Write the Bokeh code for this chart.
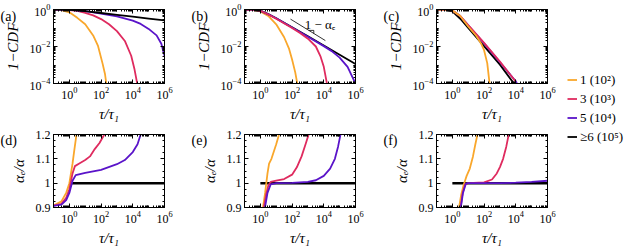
import numpy as np
from bokeh.plotting import figure
from bokeh.models import (Range1d, FixedTicker, LogAxis, LinearAxis, Label,
                          Legend, LegendItem, CustomJSTickFormatter)
from bokeh.layouts import row, column
from bokeh.embed import file_html
from bokeh.resources import INLINE

FONT = "Liberation Serif"
C_OR = "#f9a72c"
C_RD = "#df2b5f"
C_PU = "#5a14c9"
C_BK = "#000000"
LEGEND_LABELS = ["1 (10²)", "3 (10³)", "5 (10⁴)", "≥6 (10⁵)"]
PANEL_TAGS = ["(a)", "(b)", "(c)", "(d)", "(e)", "(f)"]

# ---- data: log10(tau/tau1) and log10(1-CDF) for top row ----
a_or_x = [-1, -0.5, 0, 0.5, 1, 1.5, 1.8, 2.1, 2.25, 2.36]
a_or_y = [0, -0.03, -0.15, -0.45, -0.8, -1.4, -1.95, -2.94, -3.5, -4.2]
a_rd_x = [-1, 0, 0.5, 1, 1.5, 2, 2.5, 3, 3.5, 3.9, 4.1, 4.3]
a_rd_y = [0, -0.03, -0.08, -0.18, -0.32, -0.52, -0.8, -1.17, -1.7, -2.5, -3.2, -4.1]
a_pu_x = [-1, 0, 1, 2, 3, 4, 4.5, 5, 5.5, 5.8, 6]
a_pu_y = [0, -0.02, -0.09, -0.22, -0.37, -0.6, -0.78, -1.05, -1.4, -1.85, -2.5]
a_bk_x = [-1, -0.5, 0, 0.5, 1, 2, 3, 4, 5, 6]
a_bk_y = [0, -0.005, -0.02, -0.05, -0.09, -0.19, -0.29, -0.39, -0.49, -0.59]

b_or_x = [-1, -0.5, 0, 0.5, 1, 1.5, 1.8, 2, 2.2, 2.35]
b_or_y = [0, -0.02, -0.1, -0.35, -0.8, -1.5, -2.1, -2.7, -3.4, -4.1]
b_rd_x = [-1, -0.5, 0, 0.5, 1, 2, 2.5, 3, 3.5, 3.8, 4, 4.22]
b_rd_y = [0, -0.01, -0.07, -0.27, -0.5, -1.0, -1.27, -1.58, -2.0, -2.55, -3.1, -4.1]
b_pu_x = [-1, -0.5, 0, 0.5, 1, 2, 3, 4, 4.5, 5, 5.5, 6]
b_pu_y = [0, -0.01, -0.07, -0.26, -0.48, -0.97, -1.47, -1.98, -2.25, -2.6, -3.1, -4.0]
b_bk_x = [-1, -0.5, 0, 0.5, 1, 2, 3, 4, 5, 6]
b_bk_y = [0, -0.01, -0.06, -0.25, -0.47, -0.96, -1.45, -1.95, -2.45, -2.95]
# guide line (slope 1 - alpha_e) and its triangle, in log10 units
guide_x = [1.9, 4.1]
guide_y = [-0.52, -1.68]
tri_x = [3.05, 3.37, 3.37]
tri_y = [-1.13, -1.13, -1.3]
guide_text = "1 − αₑ"
guide_text_x = 2.8
guide_text_y = -0.82

c_or_x = [-1, -0.5, 0, 0.5, 1, 1.5, 1.8, 2, 2.2, 2.36]
c_or_y = [0, -0.01, -0.05, -0.35, -0.92, -1.42, -1.82, -2.2, -2.9, -4.1]
c_rd_x = [-1, -0.5, 0, 0.5, 1, 2, 3, 4.0]
c_rd_y = [0, -0.01, -0.05, -0.35, -0.84, -1.8, -2.82, -3.9]
c_pu_x = [-1, -0.5, 0, 0.5, 1, 2, 3, 4, 4.1]
c_pu_y = [0, -0.01, -0.05, -0.35, -0.85, -1.83, -2.85, -3.88, -4.05]
c_bk_x = [-1, -0.5, 0, 0.5, 1, 2, 3, 3.9]
c_bk_y = [0, -0.01, -0.1, -0.5, -1.0, -1.98, -2.98, -4.02]

# ---- bottom row: log10(tau/tau1) and alpha_e/alpha ----
d_or_x = [-1, -0.5, -0.2, 0, 0.2, 0.3, 0.47]
d_or_y = [0.908, 0.925, 0.96, 1.0, 1.08, 1.13, 1.21]
d_rd_x = [-1, -0.5, -0.2, 0, 0.2, 0.35, 0.6, 1, 1.3, 1.6, 1.9, 2.25]
d_rd_y = [0.908, 0.915, 0.94, 0.975, 1.04, 1.07, 1.08, 1.095, 1.11, 1.14, 1.165, 1.205]
d_pu_x = [-1, -0.5, -0.2, 0, 0.2, 0.4, 1, 2, 3, 3.5, 4, 4.3, 4.52]
d_pu_y = [0.907, 0.912, 0.93, 0.96, 1.01, 1.033, 1.042, 1.055, 1.078, 1.095, 1.128, 1.16, 1.205]
d_bk_x = [0.15, 6]
d_bk_y = [1.0, 1.0]

e_or_x = [0.12, 0.3, 0.45, 0.55, 0.7, 0.85, 1.0, 1.2]
e_or_y = [0.88, 0.96, 1.04, 1.08, 1.1, 1.13, 1.16, 1.205]
e_rd_x = [0.17, 0.35, 0.5, 0.65, 1, 1.5, 2, 2.3, 2.6, 2.85, 3.07]
e_rd_y = [0.88, 0.95, 0.99, 1.005, 1.01, 1.017, 1.035, 1.065, 1.11, 1.16, 1.205]
e_pu_x = [0.24, 0.45, 0.65, 1, 2, 3, 3.5, 4, 4.4, 4.7, 4.9, 5.07]
e_pu_y = [0.88, 0.96, 0.995, 1.0, 1.001, 1.005, 1.012, 1.03, 1.06, 1.1, 1.15, 1.205]
e_bk_x = [0.0, 6]
e_bk_y = [1.0, 1.0]

f_or_x = [0.37, 0.55, 0.7, 0.8, 0.9, 1.1, 1.3, 1.45, 1.6]
f_or_y = [0.88, 0.95, 0.99, 1.01, 1.03, 1.06, 1.11, 1.16, 1.205]
f_rd_x = [0.47, 0.65, 0.8, 1, 2, 2.5, 2.8, 3.0, 3.2, 3.4, 3.57]
f_rd_y = [0.88, 0.96, 0.995, 1.0, 1.003, 1.015, 1.04, 1.066, 1.1, 1.15, 1.205]
f_pu_x = [0.49, 0.67, 0.85, 1, 3, 4, 5, 6]
f_pu_y = [0.88, 0.96, 0.998, 1.0, 1.0, 1.002, 1.005, 1.01]
f_bk_x = [0.0, 6]
f_bk_y = [1.0, 1.0]

X_MAJOR = [1e0, 1e2, 1e4, 1e6]
Y_LOG_MAJOR = [1e-4, 1e-2, 1e0]
Y_LIN_MAJOR = [0.9, 1.0, 1.1, 1.2]


def log_minor(lo, hi):
    out = []
    for e in range(lo, hi):
        for m in range(1, 10):
            out.append(m * 10.0 ** e)
    return out


X_MINOR = log_minor(-1, 6)
Y_LOG_MINOR = log_minor(-4, 0)
Y_LIN_MINOR = [0.925, 0.95, 0.975, 1.025, 1.05, 1.075, 1.125, 1.15, 1.175]

BLANK = CustomJSTickFormatter(code="return '';")


def style_axis(ax, show_labels):
    ax.major_tick_in = 4
    ax.major_tick_out = 0
    ax.minor_tick_in = 2
    ax.minor_tick_out = 0
    ax.axis_line_color = "black"
    ax.major_tick_line_color = "black"
    ax.minor_tick_line_color = "black"
    ax.major_label_text_font = FONT
    ax.major_label_text_font_size = "12px"
    ax.major_label_text_color = "black"
    ax.axis_label_text_font = FONT
    ax.axis_label_text_font_size = "15px"
    ax.axis_label_text_font_style = "italic"
    ax.axis_label_text_color = "black"
    if not show_labels:
        ax.formatter = BLANK
        ax.major_label_standoff = 0


def make_panel(top, right_border, tag, series, extra=None):
    if top:
        fh, bb = 74, 42
        yr = Range1d(1e-4, 1.0)
        ytype = "log"
        tag_y = 10.0 ** (-0.38)
    else:
        fh, bb = 73, 39
        yr = Range1d(0.9, 1.2)
        ytype = "linear"
        tag_y = 1.175
    p = figure(x_axis_type="log", y_axis_type=ytype,
               x_range=Range1d(1e-1, 1e6), y_range=yr,
               frame_width=111, frame_height=fh,
               min_border_left=53, min_border_right=right_border,
               min_border_top=9, min_border_bottom=bb,
               output_backend="svg", toolbar_location=None)
    p.outline_line_color = "black"
    p.outline_line_alpha = 1.0
    p.xgrid.visible = False
    p.ygrid.visible = False
    p.background_fill_color = "white"
    p.border_fill_color = "white"

    xt = FixedTicker(ticks=X_MAJOR, minor_ticks=X_MINOR)
    if top:
        yt = FixedTicker(ticks=Y_LOG_MAJOR, minor_ticks=Y_LOG_MINOR)
    else:
        yt = FixedTicker(ticks=Y_LIN_MAJOR, minor_ticks=Y_LIN_MINOR)
    p.xaxis.ticker = xt
    p.yaxis.ticker = yt
    for ax in p.xaxis:
        style_axis(ax, True)
        ax.axis_label = "τ/τ₁"
        ax.major_label_standoff = 3
        ax.axis_label_standoff = 4
    for ax in p.yaxis:
        style_axis(ax, True)
        ax.axis_label = "1−CDF" if top else "αₑ/α"
        ax.major_label_standoff = 3
        ax.axis_label_standoff = 6
        if not top:
            ax.formatter = CustomJSTickFormatter(
                code="return Math.abs(tick-1)<1e-9 ? '1' : tick.toFixed(1);")
    top_ax = LogAxis(ticker=xt)
    style_axis(top_ax, False)
    p.add_layout(top_ax, "above")
    right_ax = (LogAxis if top else LinearAxis)(ticker=yt)
    style_axis(right_ax, False)
    p.add_layout(right_ax, "right")

    for xs, ys, col, lw in series:
        xv = 10.0 ** np.array(xs)
        yv = (10.0 ** np.array(ys)) if top else np.array(ys)
        p.line(xv, yv, line_color=col, line_width=lw)

    if extra is not None:
        extra(p)

    # panel tag: anchored to the frame's left edge, kept in the (roomy) right
    # side panel so that it is not clipped to the frame
    p.add_layout(Label(x=1e-1, y=tag_y, x_offset=-53,
                       text=tag, text_font=FONT, text_font_size="14px",
                       text_color="black", text_baseline="alphabetic"),
                 "right")
    return p


def add_guide(p):
    p.line(10.0 ** np.array(guide_x), 10.0 ** np.array(guide_y),
           line_color="black", line_width=0.8)
    p.line(10.0 ** np.array(tri_x), 10.0 ** np.array(tri_y),
           line_color="black", line_width=0.8)
    p.add_layout(Label(x=10.0 ** guide_text_x, y=10.0 ** guide_text_y,
                       text=guide_text, text_font=FONT,
                       text_font_size="13px", text_color="black",
                       text_baseline="alphabetic"))


LW = 1.8
pa = make_panel(True, 27, PANEL_TAGS[0], [
    (a_or_x, a_or_y, C_OR, LW), (a_rd_x, a_rd_y, C_RD, LW),
    (a_pu_x, a_pu_y, C_PU, LW), (a_bk_x, a_bk_y, C_BK, LW)])
pb = make_panel(True, 28, PANEL_TAGS[1], [
    (b_or_x, b_or_y, C_OR, LW), (b_bk_x, b_bk_y, C_BK, LW),
    (b_pu_x, b_pu_y, C_PU, LW), (b_rd_x, b_rd_y, C_RD, LW)], extra=add_guide)
pc = make_panel(True, 20, PANEL_TAGS[2], [
    (c_bk_x, c_bk_y, C_BK, LW), (c_pu_x, c_pu_y, C_PU, LW),
    (c_rd_x, c_rd_y, C_RD, LW), (c_or_x, c_or_y, C_OR, LW)])
pd = make_panel(False, 27, PANEL_TAGS[3], [
    (d_bk_x, d_bk_y, C_BK, 2.5), (d_or_x, d_or_y, C_OR, LW),
    (d_rd_x, d_rd_y, C_RD, LW), (d_pu_x, d_pu_y, C_PU, LW)])
pe = make_panel(False, 28, PANEL_TAGS[4], [
    (e_bk_x, e_bk_y, C_BK, 2.5), (e_or_x, e_or_y, C_OR, LW),
    (e_rd_x, e_rd_y, C_RD, LW), (e_pu_x, e_pu_y, C_PU, LW)])
pf = make_panel(False, 20, PANEL_TAGS[5], [
    (f_bk_x, f_bk_y, C_BK, 2.5), (f_or_x, f_or_y, C_OR, LW),
    (f_rd_x, f_rd_y, C_RD, LW), (f_pu_x, f_pu_y, C_PU, LW)])

# legend panel
pl = figure(width=64, height=246, x_range=Range1d(0, 1), y_range=Range1d(0, 1),
            min_border=0, output_backend="svg", toolbar_location=None)
pl.axis.visible = False
pl.grid.visible = False
pl.outline_line_color = None
items = []
for lab, col in zip(LEGEND_LABELS, [C_OR, C_RD, C_PU, C_BK]):
    r = pl.line(x=[np.nan, np.nan], y=[np.nan, np.nan], line_color=col,
                line_width=LW)
    items.append(LegendItem(label=lab, renderers=[r]))
leg = Legend(items=items, location=(0, 100), orientation="vertical",
             glyph_width=10, glyph_height=19, label_height=19, spacing=0,
             padding=0, margin=0, label_standoff=3,
             label_text_font=FONT, label_text_font_size="13px",
             label_text_color="black", border_line_color=None,
             background_fill_alpha=0)
pl.add_layout(leg, "center")

root = row(column(row(pa, pb, pc), row(pd, pe, pf)), pl)
root.styles = {"position": "absolute", "left": "0px", "top": "0px"}

open("out.html", "w").write(file_html(root, INLINE))
